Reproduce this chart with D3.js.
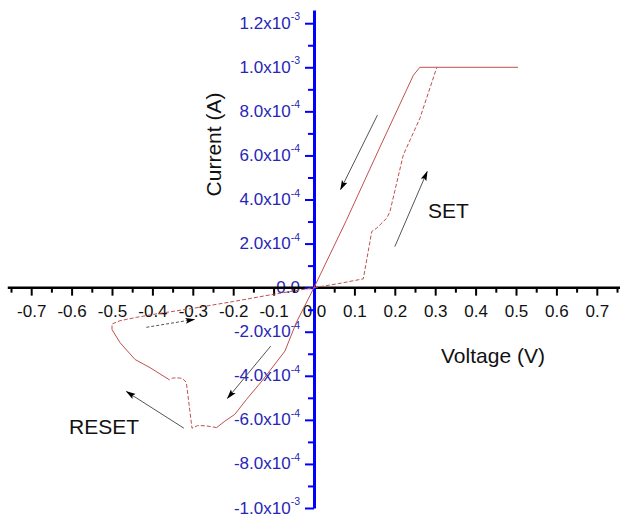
<!DOCTYPE html>
<html>
<head>
<meta charset="utf-8">
<script src="https://cdn.jsdelivr.net/npm/d3@7"></script>
<style>
  body { margin: 0; background: #fff; }
  svg { display: block; font-family: "Liberation Sans", Arial, sans-serif; }
</style>
</head>
<body>
<div id="target"></div>
<script>
// sweep segments, [voltage (V), current (A)]
const setForward = [[0, 0], [0.06, 0.018e-3], [0.122, 0.04e-3], [0.143, 0.255e-3], [0.155, 0.27e-3],
  [0.18, 0.315e-3], [0.188, 0.345e-3], [0.221, 0.602e-3], [0.262, 0.768e-3], [0.304, 1.0e-3]]
const compliance = [[0.262, 1.0e-3], [0.505, 1.0e-3]]
const setReturn = [[0.262, 1.0e-3], [0.246, 0.964e-3], [0.16, 0.625e-3], [0.08, 0.305e-3], [0, 0],
  [-0.043, -0.155e-3], [-0.072, -0.288e-3], [-0.129, -0.424e-3], [-0.167, -0.507e-3],
  [-0.196, -0.575e-3], [-0.22, -0.605e-3], [-0.241, -0.635e-3]]
const resetBottom = [[-0.241, -0.635e-3], [-0.268, -0.627e-3], [-0.288, -0.626e-3], [-0.302, -0.638e-3],
  [-0.316, -0.43e-3], [-0.324, -0.415e-3], [-0.332, -0.41e-3], [-0.35, -0.41e-3], [-0.358, -0.418e-3]]
const resetSweep = [[-0.358, -0.418e-3], [-0.406, -0.363e-3], [-0.443, -0.326e-3], [-0.48, -0.25e-3], [-0.5, -0.19e-3]]
const resetReturn = [[-0.5, -0.19e-3], [-0.5, -0.165e-3], [-0.48, -0.15e-3], [-0.44, -0.135e-3], [-0.4, -0.122e-3],
  [-0.3, -0.094e-3], [-0.2, -0.063e-3], [-0.1, -0.03e-3], [0, 0]]

// arrows: [fromV, fromI, toV, toI, dashed]
const arrows = [
  [0.157, 0.783e-3, 0.066, 0.446e-3, false],
  [0.2, 0.186e-3, 0.28, 0.526e-3, false],
  [-0.415, -0.18e-3, -0.296, -0.144e-3, true],
  [-0.107, -0.265e-3, -0.214, -0.502e-3, false],
  [-0.322, -0.638e-3, -0.464, -0.472e-3, false]
]

const xMajor = [-0.7, -0.6, -0.5, -0.4, -0.3, -0.2, -0.1, 0, 0.1, 0.2, 0.3, 0.4, 0.5, 0.6, 0.7]
const xLabels = ["-0.7", "-0.6", "-0.5", "-0.4", "-0.3", "-0.2", "-0.1", "0.0", "0.1", "0.2", "0.3", "0.4", "0.5", "0.6", "0.7"]
const yMajor = [1.2e-3, 1.0e-3, 8e-4, 6e-4, 4e-4, 2e-4, 0, -2e-4, -4e-4, -6e-4, -8e-4, -1.0e-3]
const yMant = ["1.2x10", "1.0x10", "8.0x10", "6.0x10", "4.0x10", "2.0x10", "0.0", "-2.0x10", "-4.0x10", "-6.0x10", "-8.0x10", "-1.0x10"]
const yExp = ["-3", "-3", "-4", "-4", "-4", "-4", "", "-4", "-4", "-4", "-4", "-3"]

const width = 620, height = 517
const svg = d3.select("#target").append("svg").attr("width", width).attr("height", height)

const x = d3.scaleLinear().domain([-0.75, 0.75]).range([11, 617])
const y = d3.scaleLinear().domain([-1.0e-3, 1.26e-3]).range([508, 10])

const defs = svg.append("defs")
defs.append("marker").attr("id", "head")
  .attr("viewBox", "0 -4 10 8").attr("refX", 9).attr("refY", 0)
  .attr("markerWidth", 10).attr("markerHeight", 8).attr("markerUnits", "userSpaceOnUse")
  .attr("orient", "auto")
  .append("path").attr("d", "M0,-3L10,0L0,3L2,0Z").attr("fill", "#000")

// y tick labels (drawn first so the x axis sits over "0.0")
const ylab = svg.append("g").attr("fill", "#2626b8").attr("font-size", 17).attr("text-anchor", "end")
yMajor.forEach((v, i) => {
  let t = ylab.append("text").attr("x", 300).attr("y", y(v) + 5.5)
  t.append("tspan").text(yMant[i])
  if (yExp[i]) t.append("tspan").attr("font-size", 10.5).attr("dy", -8.5).text(yExp[i])
})

// x axis
let x0 = y(0)
let xMinor = d3.range(-15, 16).map(d => d * 0.05).filter(d => Math.abs(Math.round(d * 10) - d * 10) > 0.01)
svg.append("g").attr("transform", `translate(0,${x0})`)
  .call(d3.axisBottom(x).tickValues(xMinor).tickSize(5).tickFormat(""))
  .call(g => g.select(".domain").remove())
  .call(g => g.selectAll("line").attr("stroke", "#000").attr("stroke-width", 2))
let xa = svg.append("g").attr("transform", `translate(0,${x0})`)
  .call(d3.axisBottom(x).tickValues(xMajor).tickSize(8).tickSizeOuter(0).tickPadding(9)
    .tickFormat((d, i) => xLabels[i]))
xa.select(".domain").attr("stroke", "#000").attr("stroke-width", 2.5).attr("d", `M${x(-0.758)},0H${width}`)
xa.selectAll("line").attr("stroke", "#000").attr("stroke-width", 2)
xa.selectAll("text").attr("font-size", 17).attr("fill", "#111").attr("font-family", "Liberation Sans, Arial, sans-serif")

// y axis
let y0 = x(0)
let yMinor = d3.range(-10, 13).map(d => d * 1e-4).filter(d => Math.abs(d) > 1e-9 && Math.round(d * 1e4) % 2 !== 0)
svg.append("g").attr("transform", `translate(${y0},0)`)
  .call(d3.axisLeft(y).tickValues(yMinor).tickSize(6).tickFormat(""))
  .call(g => g.select(".domain").remove())
  .call(g => g.selectAll("line").attr("stroke", "#0000ff").attr("stroke-width", 2))
let ya = svg.append("g").attr("transform", `translate(${y0},0)`)
  .call(d3.axisLeft(y).tickValues(yMajor).tickSize(9).tickSizeOuter(0).tickFormat(""))
ya.select(".domain").attr("stroke", "#0000ff").attr("stroke-width", 3)
ya.selectAll("line").attr("stroke", "#0000ff").attr("stroke-width", 2)

// curves
const line = d3.line().x(d => x(d[0])).y(d => y(d[1]))
const curveColor = "#c05050"
const segs = [
  [setForward, true], [compliance, false], [setReturn, false],
  [resetBottom, true], [resetSweep, false], [resetReturn, true]
]
segs.forEach(([data, dashed]) => {
  svg.append("path").datum(data).attr("d", line)
    .attr("fill", "none").attr("stroke", curveColor).attr("stroke-width", 1)
    .attr("stroke-dasharray", dashed ? "4,2" : null)
})

// arrows
svg.append("g").selectAll("line").data(arrows).enter().append("line")
  .attr("x1", d => x(d[0])).attr("y1", d => y(d[1]))
  .attr("x2", d => x(d[2])).attr("y2", d => y(d[3]))
  .attr("stroke", "#555").attr("stroke-width", 1)
  .attr("stroke-dasharray", d => d[4] ? "3,2" : null)
  .attr("marker-end", "url(#head)")

// titles and notes
svg.append("text").attr("transform", "translate(220.5,144.5) rotate(-90)")
  .attr("text-anchor", "middle").attr("font-size", 21).attr("fill", "#111").text("Current (A)")
svg.append("text").attr("x", 441).attr("y", 363).attr("font-size", 21).attr("fill", "#111").text("Voltage (V)")
svg.append("text").attr("x", 428).attr("y", 218).attr("font-size", 21).attr("fill", "#111").text("SET")
svg.append("text").attr("x", 69).attr("y", 434).attr("font-size", 21).attr("fill", "#111").text("RESET")
</script>
</body>
</html>
